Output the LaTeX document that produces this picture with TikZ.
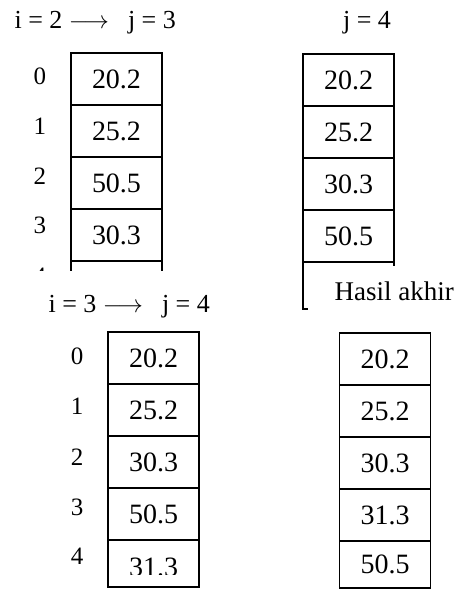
\documentclass[tikz,border=0pt]{standalone}
\usepackage{fontspec}
\setmainfont{Liberation Serif}
\usetikzlibrary{positioning}

\tikzset{
  cell/.style={draw, line width=1.2pt, minimum width=91pt, minimum height=52pt,
    inner sep=0pt, outer sep=0pt, font=\fontsize{28}{31}\selectfont},
  lastcell/.style={cell, minimum height=47pt},
  idx/.style={font=\fontsize{25}{28}\selectfont},
  head/.style={font=\fontsize{26}{29}\selectfont},
}

\begin{document}
\begin{tikzpicture}[x=1pt, y=-1pt]
  \useasboundingbox (0,0) rectangle (458,590);

  % i = 2, j = 3 (cut off below the fourth cell)
  \node[head, anchor=base west] (h1) at (11,28) {i = 2 $\longrightarrow$\hspace{19pt}j = 3};
  \begin{scope}
    \clip (0,0) rectangle (230,270);
    \node[cell] (a0) at (116.5,79) {20.2};
    \node[cell, below=0pt of a0] (a1) {25.2};
    \node[cell, below=0pt of a1] (a2) {50.5};
    \node[cell, below=0pt of a2] (a3) {30.3};
    \node[cell, below=0pt of a3] (a4) {};
    \node[idx] (ia0) at (40,76) {0};
    \node[idx] (ia1) at (40,126) {1};
    \node[idx] (ia2) at (40,176) {2};
    \node[idx] (ia3) at (40,225) {3};
    \node[idx] (ia4) at (40,276) {4};
  \end{scope}

  % j = 4
  \node[head, anchor=base] (h2) at (367,28) {j = 4};
  \node[cell] (b0) at (348.5,80) {20.2};
  \node[cell, below=0pt of b0] (b1) {25.2};
  \node[cell, below=0pt of b1] (b2) {30.3};
  \node[cell, below=0pt of b2] (b3) {50.5};
  \draw[line width=1.2pt] (b3.south east) -- ++(0,4);
  \draw[line width=1.2pt] (b3.south west) -- ++(0,47) -- ++(5,0);
  \node[font=\fontsize{27}{30}\selectfont, anchor=base west] (res) at (331,300) {Hasil akhir};

  % i = 3, j = 4
  \node[head, anchor=base west] (h3) at (45,312) {i = 3 $\longrightarrow$\hspace{19pt}j = 4};
  \node[cell] (c0) at (153.5,358) {20.2};
  \node[cell, below=0pt of c0] (c1) {25.2};
  \node[cell, below=0pt of c1] (c2) {30.3};
  \node[cell, below=0pt of c2] (c3) {50.5};
  \node[lastcell, below=0pt of c3] (c4) {};
  \begin{scope}
    \clip (c4.north west) rectangle (199,574);
    \node[font=\fontsize{28}{31}\selectfont, anchor=base] (v4) at (153.5,576) {31.3};
  \end{scope}
  \node[idx] (ic0) at (77,356) {0};
  \node[idx] (ic1) at (77,406) {1};
  \node[idx] (ic2) at (77,457) {2};
  \node[idx] (ic3) at (77,507) {3};
  \node[idx] (ic4) at (77,556) {4};

  % hasil akhir
  \node[cell] (d0) at (385,359) {20.2};
  \node[cell, below=0pt of d0] (d1) {25.2};
  \node[cell, below=0pt of d1] (d2) {30.3};
  \node[cell, below=0pt of d2] (d3) {31.3};
  \node[lastcell, below=0pt of d3] (d4) {50.5};

\end{tikzpicture}
\end{document}
